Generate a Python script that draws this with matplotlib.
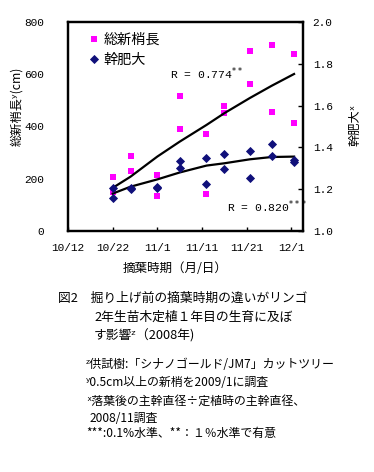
import matplotlib
matplotlib.use("Agg")
import matplotlib.pyplot as plt
from matplotlib.lines import Line2D

plt.rcParams['font.family'] = ['Noto Sans CJK JP', 'DejaVu Sans']

# ---- data (x = days after 10/12) ----
x_ticks = [0, 10, 20, 30, 40, 50]
x_ticklabels = ["10/12", "10/22", "11/1", "11/11", "11/21", "12/1"]
y_left_ticks = [0, 200, 400, 600, 800]
y_right_ticks = [1.0, 1.2, 1.4, 1.6, 1.8, 2.0]

days = [10, 14, 20, 25, 31, 35, 40.7, 45.6, 50.6]
# total shoot length (cm), two trees per date
shoot_a = [208, 288, 215, 515, 373, 479, 688, 711, 677]
shoot_b = [149, 228, 134, 392, 142, 450, 564, 454, 415]
# trunk thickening ratio, two trees per date
trunk_a = [1.204, 1.204, 1.211, 1.336, 1.349, 1.367, 1.383, 1.418, 1.340]
trunk_b = [1.156, 1.200, 1.205, 1.303, 1.224, 1.296, 1.253, 1.360, 1.328]
# trend lines
trend_days = [10, 14, 20, 25, 31, 35, 40.7, 45.6, 50.6]
trend_shoot = [165, 208, 285, 342, 406, 451, 509, 556, 601]
trend_trunk = [1.179, 1.212, 1.247, 1.280, 1.313, 1.324, 1.343, 1.354, 1.356]

pink = "#FF00FF"
navy = "#10107A"
tickfont = dict(family="Liberation Mono", size=8)

fig = plt.figure(figsize=(3.74, 4.72), dpi=100)
W, H = 374, 472
ax = fig.add_axes([68 / W, 1 - 231 / H, 235 / W, 209 / H])
ax2 = ax.twinx()

ax.set_xlim(0, 52.6)
ax.set_ylim(0, 800)
ax2.set_ylim(1.0, 2.0)

ax.plot(trend_days, trend_shoot, color="black", lw=1.6, zorder=3)
ax2.plot(trend_days, trend_trunk, color="black", lw=1.6, zorder=3)

ax.plot(days, shoot_a, ls="none", marker="s", ms=4.4, color=pink, mew=0, zorder=2)
ax.plot(days, shoot_b, ls="none", marker="s", ms=4.4, color=pink, mew=0, zorder=2)
ax2.plot(days, trunk_a, ls="none", marker="D", ms=3.8, color=navy, mew=0.6, zorder=4)
ax2.plot(days, trunk_b, ls="none", marker="D", ms=3.8, color=navy, mew=0.6, zorder=4)

ax.set_xticks(x_ticks)
ax.set_xticklabels(x_ticklabels, fontdict=tickfont)
ax.set_yticks(y_left_ticks)
ax.set_yticklabels([str(v) for v in y_left_ticks], fontdict=tickfont)
ax2.set_yticks(y_right_ticks)
ax2.set_yticklabels([f"{v:.1f}" for v in y_right_ticks], fontdict=tickfont)

ax.tick_params(axis="x", direction="in", length=3, width=1, pad=9)
ax.tick_params(axis="y", length=0, pad=17)
ax2.tick_params(axis="y", direction="in", length=3.5, width=1, pad=7)

for a in (ax, ax2):
    for s in a.spines.values():
        s.set_linewidth(1.6)

# legend
handles = [
    Line2D([], [], ls="none", marker="s", ms=4.4, color=pink, mew=0),
    Line2D([], [], ls="none", marker="D", ms=3.8, color=navy, mew=0.6),
]
leg = ax.legend(handles, ["総新梢長", "幹肥大"], loc="upper left",
                bbox_to_anchor=(89 / W, 1 - 33 / H), bbox_transform=fig.transFigure,
                frameon=False, fontsize=10.2, handlelength=0.7, handletextpad=0.35,
                labelspacing=0.4, borderpad=0, borderaxespad=0)

def ftxt(x, y, s, **kw):
    fig.text(x / W, 1 - y / H, s, **kw)

ftxt(170, 74, "R = 0.774$^{**}$", fontsize=8.2, family="Liberation Mono", va="center", ha="left")
ftxt(227, 207, "R = 0.820$^{***}$", fontsize=8.2, family="Liberation Mono", va="center", ha="left")

# axis labels
ftxt(17, 106, "総新梢長ʸ(cm)", fontsize=8.8, rotation=90, ha="center", va="center")
ftxt(355, 125, "幹肥大ˣ", fontsize=8.8, rotation=90, ha="center", va="center")
ftxt(175, 269, "摘葉時期（月/日）", fontsize=9, ha="center", va="center")

# caption
cap = 9.2
ftxt(58, 298, "図2　掘り上げ前の摘葉時期の違いがリンゴ", fontsize=cap, va="center")
ftxt(94, 317, "2年生苗木定植１年目の生育に及ぼ", fontsize=cap, va="center")
ftxt(94, 336, "す影響ᶻ（2008年)", fontsize=cap, va="center")

fn = 8.6
ftxt(86, 364, "ᶻ供試樹:「シナノゴールド/JM7」カットツリー", fontsize=fn, va="center")
ftxt(86, 382, "ʸ0.5cm以上の新梢を2009/1に調査", fontsize=fn, va="center")
ftxt(86, 401, "ˣ落葉後の主幹直径÷定植時の主幹直径、", fontsize=fn, va="center")
ftxt(90, 418, "2008/11調査", fontsize=fn, va="center")
ftxt(86, 433, "***:0.1%水準、**：１％水準で有意", fontsize=fn, va="center")

fig.savefig("out.png", dpi=100)
